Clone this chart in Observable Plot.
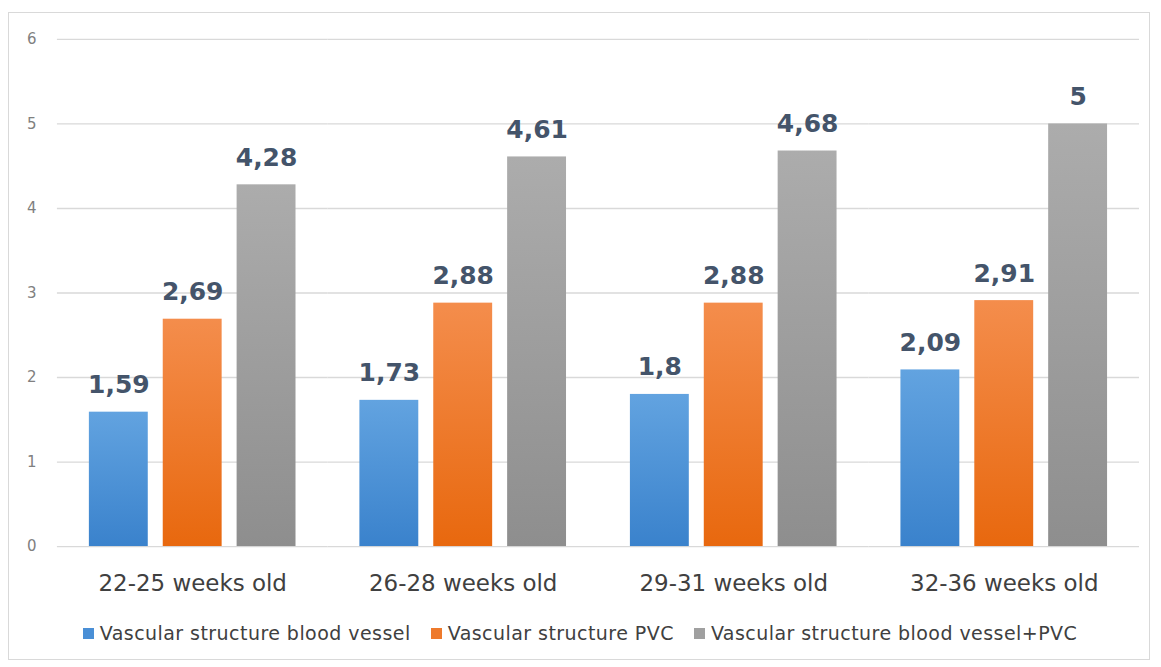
<!DOCTYPE html>
<html>
<head>
<meta charset="utf-8">
<script src="https://cdn.jsdelivr.net/npm/d3@7"></script>
<script src="https://cdn.jsdelivr.net/npm/@observablehq/plot@0.6"></script>
<style>
  body { margin: 0; background: #fff; font-family: "DejaVu Sans", sans-serif; }
  #frame { position: absolute; left: 8px; top: 12px; width: 1142px; height: 648px; border: 1px solid #d9d9d9; box-sizing: border-box; background: #fff; }
  #legend { position: absolute; left: 0; top: 609px; width: 1142px; display: flex; justify-content: center; gap: 20px; font-size: 19px; letter-spacing: 0.45px; color: #404040; }
  #legend span.item { display: inline-flex; align-items: center; }
  #legend span.sw { width: 11px; height: 11px; display: inline-block; margin-right: 6px; }
</style>
</head>
<body>
<div id="frame"><div id="chart"></div><div id="legend"></div></div>
<script>
const categories = ["22-25 weeks old", "26-28 weeks old", "29-31 weeks old", "32-36 weeks old"];
const seriesNames = ["Vascular structure blood vessel", "Vascular structure PVC", "Vascular structure blood vessel+PVC"];
const bloodVessel = [1.59, 1.73, 1.8, 2.09];
const pvc = [2.69, 2.88, 2.88, 2.91];
const bloodVesselPvc = [4.28, 4.61, 4.68, 5];
const yTicks = [0, 1, 2, 3, 4, 5, 6];

const seriesValues = [bloodVessel, pvc, bloodVesselPvc];
const data = [];
categories.forEach((c, i) => seriesNames.forEach((s, j) => data.push({category: c, series: s, value: seriesValues[j][i]})));

const gradIds = ["gBlue", "gOrange", "gGray"];
const gradStops = [["#62a3e0", "#3a82cc"], ["#f48d4c", "#e8680e"], ["#acacac", "#8e8e8e"]];
const swatch = ["#4a8fd6", "#ee7a2c", "#a0a0a0"];

const fmt = v => String(v).replace(".", ",");

const chart = Plot.plot({
  width: 1142,
  height: 590,
  marginLeft: 47,
  marginRight: 10,
  marginTop: 26,
  marginBottom: 56,
  style: {fontFamily: "'DejaVu Sans', sans-serif", background: "transparent"},
  fx: {domain: categories, padding: 0, label: null},
  x: {domain: seriesNames, paddingInner: 0.2, paddingOuter: 0.407, axis: null},
  y: {domain: [0, 6], ticks: yTicks, label: null},
  color: {type: "ordinal", domain: seriesNames, range: gradIds.map(id => `url(#${id})`)},
  marks: [
    Plot.gridY(yTicks, {stroke: "#d9d9d9", strokeOpacity: 1, strokeWidth: 1.3}),
    Plot.axisY(yTicks, {tickSize: 0, tickPadding: 21, fontSize: 15, fill: "#808080", label: null, tickFormat: d => String(d)}),
    Plot.axisFx({anchor: "bottom", tickSize: 0, tickPadding: 28, fontSize: 23, fill: "#404040", label: null}),
    Plot.barY(data, {fx: "category", x: "series", y: "value", fill: "series"}),
    Plot.text(data, {fx: "category", x: "series", y: "value", text: d => fmt(d.value), dy: -27, fontSize: 25, fontWeight: "bold", fill: "#44546a"})
  ]
});

// gradients
const svg = d3.select(chart);
const defs = svg.insert("defs", ":first-child");
gradIds.forEach((id, i) => {
  const g = defs.append("linearGradient").attr("id", id).attr("x1", 0).attr("y1", 0).attr("x2", 0).attr("y2", 1);
  g.append("stop").attr("offset", "0%").attr("stop-color", gradStops[i][0]);
  g.append("stop").attr("offset", "100%").attr("stop-color", gradStops[i][1]);
});
document.getElementById("chart").appendChild(chart);

const legend = document.getElementById("legend");
seriesNames.forEach((s, i) => {
  const item = document.createElement("span");
  item.className = "item";
  item.innerHTML = `<span class="sw" style="background:${swatch[i]}"></span>${s}`;
  legend.appendChild(item);
});
</script>
</body>
</html>
